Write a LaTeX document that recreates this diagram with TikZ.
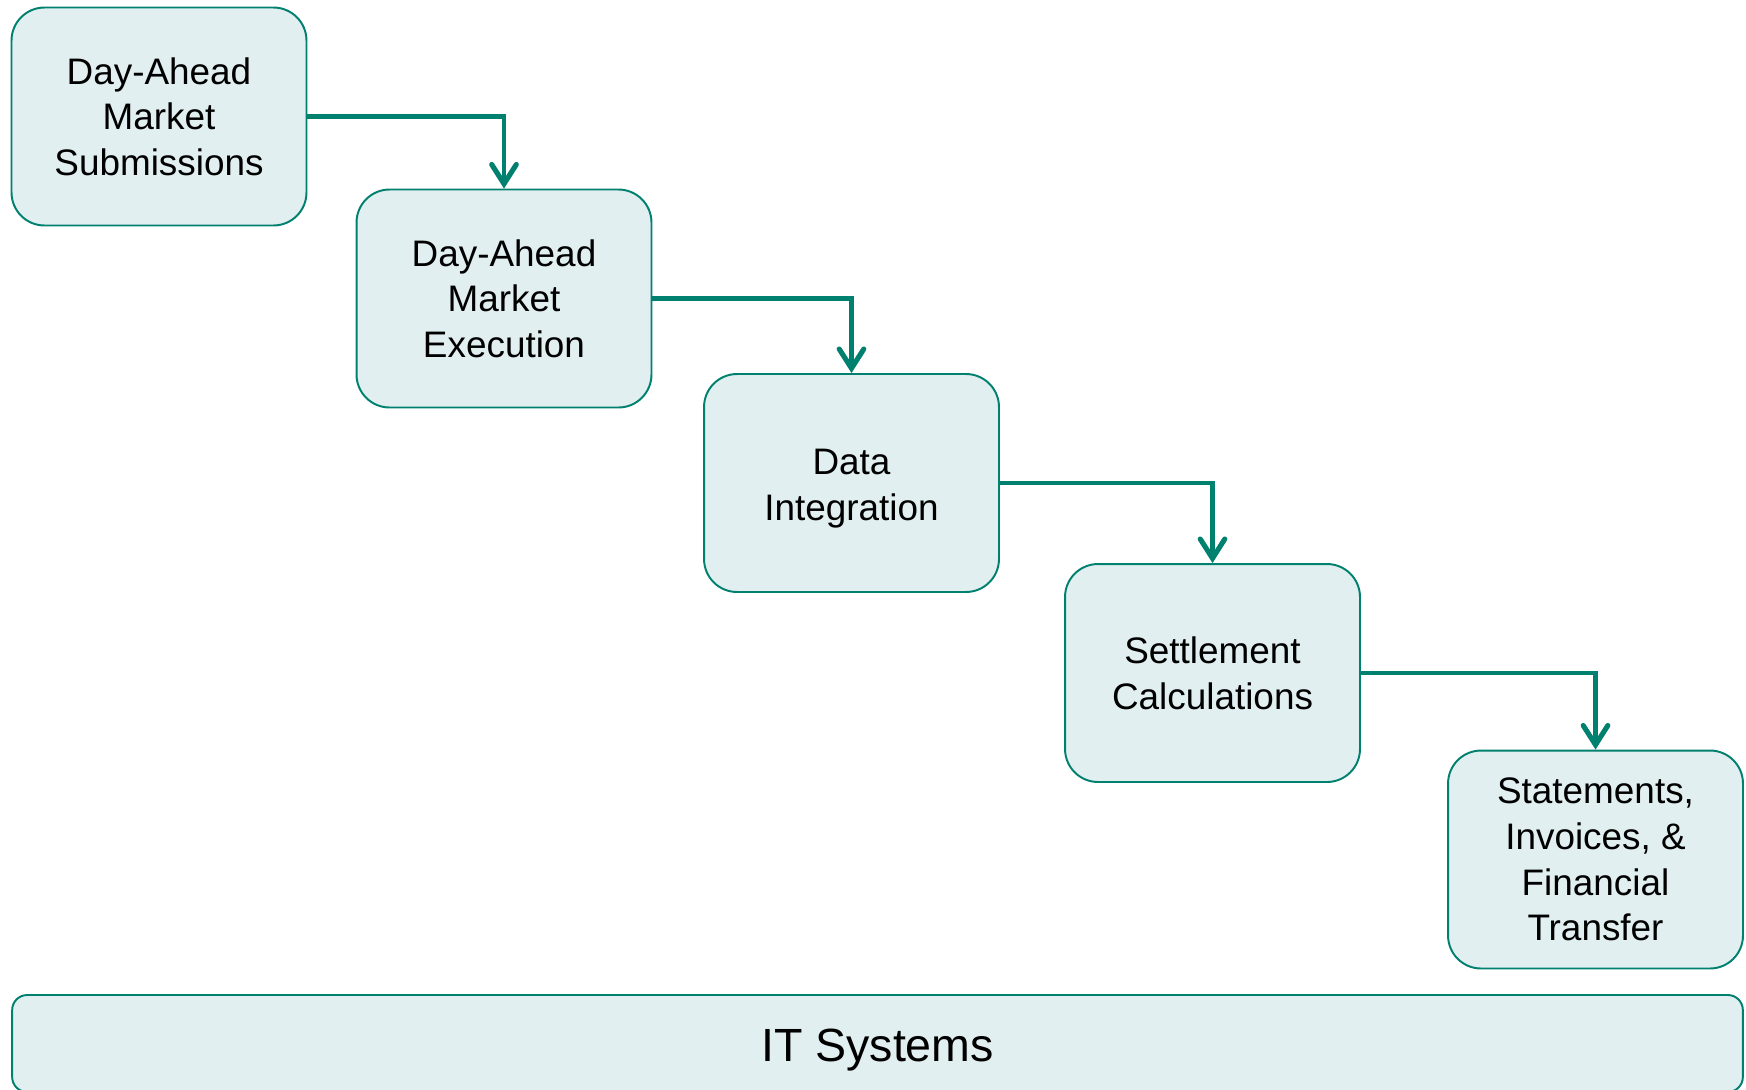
\documentclass[tikz,border=0pt]{standalone}
\usepackage{fontspec}
\setmainfont{Liberation Sans}
\usetikzlibrary{arrows.meta}
\definecolor{tealline}{RGB}{0,128,110}
\definecolor{tealfill}{RGB}{225,239,240}
\tikzset{
  x=0.02cm, y=-0.02cm,
  stagebox/.style={draw=tealline, fill=tealfill, line width=1.1pt,
    rounded corners=0.66cm, minimum width=5.9cm, minimum height=4.36cm,
    align=center, inner sep=0pt, font=\fontsize{21}{26}\selectfont},
  basebox/.style={draw=tealline, fill=tealfill, line width=1.1pt,
    rounded corners=0.3cm, minimum width=34.62cm, minimum height=1.94cm,
    inner sep=0pt, font=\fontsize{26.5}{32}\selectfont,
    text height=0.7cm, text depth=0cm},
  flow/.style={draw=tealline, line width=2.7pt,
    -{Straight Barb[length=11pt, width=14pt, line width=2.9pt, line cap=round]}}
}
\begin{document}
\begin{tikzpicture}
\useasboundingbox (0,0) rectangle (1746,1089);
\fill[white] (0,0) rectangle (1746,1089);
\node[stagebox] (s1) at (159,116.5) {Day-Ahead\\Market\\Submissions};
\node[stagebox] (s2) at (504,298.5) {Day-Ahead\\Market\\Execution};
\node[stagebox, text height=1.55cm, text depth=0.07cm] (s3) at (851.5,483) {Data\\Integration};
\node[stagebox] (s4) at (1212.5,673) {Settlement\\Calculations};
\node[stagebox] (s5) at (1595.5,859.5) {Statements,\\Invoices, \&\\Financial\\Transfer};
\node[basebox] (it) at (877.5,1043.5) {IT Systems};
\draw[flow] (s1.east) -| (s2.north);
\draw[flow] (s2.east) -| (s3.north);
\draw[flow] (s3.east) -| (s4.north);
\draw[flow] (s4.east) -| (s5.north);
\end{tikzpicture}
\end{document}
